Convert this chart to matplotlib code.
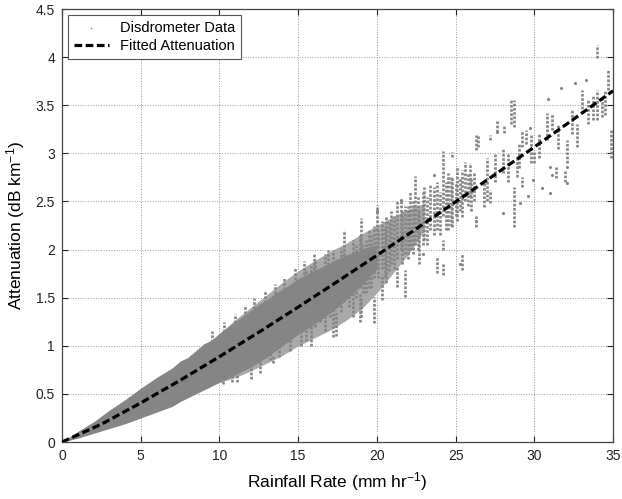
import matplotlib
matplotlib.use('Agg')
import matplotlib.pyplot as plt

plt.rcParams['font.family'] = ['Liberation Sans', 'DejaVu Sans']
plt.rcParams['mathtext.default'] = 'regular'

# dense core of the disdrometer cloud (envelope)
core_x = [0, 1, 2, 3, 4, 5, 6, 7, 7.5, 8, 8.5, 9, 9.5, 10, 10.5, 11, 11.5, 12,
          12.5, 13, 13.5, 14, 14.5, 15, 15.5, 16, 16.5, 17, 17.5, 18, 18.5, 19,
          19.5, 20]
core_hi = [0, 0.11, 0.21, 0.33, 0.44, 0.56, 0.67, 0.77, 0.84, 0.88, 0.95, 1.02,
           1.06, 1.13, 1.19, 1.25, 1.31, 1.37, 1.43, 1.48, 1.54, 1.59, 1.64,
           1.70, 1.74, 1.78, 1.82, 1.86, 1.90, 1.94, 1.97, 2.00, 2.03, 2.05]
core_lo = [0, 0.04, 0.09, 0.14, 0.19, 0.25, 0.31, 0.37, 0.42, 0.46, 0.50, 0.54,
           0.58, 0.62, 0.66, 0.70, 0.74, 0.78, 0.83, 0.88, 0.94, 1.00, 1.06,
           1.12, 1.17, 1.22, 1.28, 1.34, 1.40, 1.47, 1.55, 1.62, 1.71, 1.80]

# looser ring around the core where the samples thin out
halo_x = [10, 11, 12, 13, 14, 15, 16, 17, 18, 19, 20, 21, 22, 23]
halo_hi = [1.13, 1.27, 1.40, 1.53, 1.66, 1.78, 1.88, 1.98, 2.06, 2.16, 2.25,
           2.34, 2.42, 2.48]
halo_lo = [0.62, 0.67, 0.74, 0.82, 0.90, 1.00, 1.08, 1.16, 1.26, 1.38, 1.55,
           1.75, 1.95, 2.20]

# vertical stacks of samples at one rainfall rate: x, bottom, top
streak_x = [9.5, 10.3, 11.0, 11.6, 12.2, 12.9, 13.5, 14.1, 14.8, 15.4,
            10.2, 10.8, 11.1, 11.5, 12.0, 12.6, 13.2, 13.4, 13.8, 14.5, 15.2,
            15.5, 15.8, 15.8, 16.1, 16.4, 16.7, 17.0, 17.2, 17.2, 17.4, 17.4,
            17.7, 17.9, 18.2, 18.5, 18.7, 18.9, 18.9, 19.0, 19.0, 19.3, 19.5,
            19.8, 19.8, 20.0, 20.3, 20.3, 20.6, 20.9, 21.3, 21.3, 21.5, 21.8,
            21.8, 22.1, 22.4, 22.7, 23.0, 23.4, 23.8, 23.8, 24.2, 24.2, 24.2,
            24.5, 24.8, 24.8, 25.1, 25.4, 25.4, 25.6, 25.9, 26.0, 26.2, 26.3,
            26.3, 26.4, 26.8, 27.0, 27.2, 27.2, 27.5, 27.6, 28.0, 28.1, 28.3,
            28.5, 28.7, 28.7, 28.9, 29.0, 29.2, 29.2, 29.5, 29.8, 30.0, 30.3,
            30.8, 31.1, 31.4, 31.5, 31.95, 32.1, 32.4, 32.7, 33.0, 33.4, 33.7,
            34.0, 34.0, 34.3, 34.5, 34.7, 34.9,
            16.0, 16.9, 19.1, 19.6, 20.1, 20.5, 20.8, 21.1, 21.6, 22.0, 22.3,
            22.6, 22.9, 23.2, 23.6, 24.0, 24.4, 24.7, 25.0, 25.3, 25.8]
streak_lo = [1.00, 1.10, 1.20, 1.25, 1.30, 1.40, 1.45, 1.50, 1.60, 1.65,
             0.60, 0.62, 0.62, 0.75, 0.65, 0.72, 0.85, 0.82, 0.88, 0.95, 1.00,
             1.05, 1.00, 1.45, 1.20, 1.25, 1.15, 1.30, 1.09, 1.55, 1.10, 1.45,
             1.35, 1.45, 1.40, 1.30, 1.50, 1.25, 1.60, 1.30, 1.75, 1.55, 1.60,
             1.24, 1.70, 1.80, 1.48, 1.80, 1.65, 1.85, 1.61, 1.90, 2.00, 1.51,
             1.95, 2.00, 2.05, 1.85, 2.10, 2.20, 1.76, 2.20, 1.74, 2.00, 2.35,
             2.20, 2.23, 2.96, 2.30, 1.79, 2.34, 2.50, 2.55, 2.40, 2.50, 2.23,
             3.03, 3.07, 2.44, 2.50, 2.48, 3.14, 2.70, 3.22, 2.80, 3.21, 2.70,
             3.31, 2.23, 3.27, 2.75, 2.85, 2.65, 3.07, 3.10, 2.90, 2.90, 2.95,
             3.14, 3.24, 2.74, 3.05, 2.70, 2.90, 3.20, 3.07, 3.42, 3.30, 3.35,
             3.35, 3.99, 3.38, 3.40, 3.66, 2.95,
             1.70, 1.80, 1.55, 1.60, 1.70, 1.72, 1.78, 1.80, 1.85, 1.90, 1.95,
             2.00, 2.05, 2.05, 2.15, 2.15, 2.20, 2.25, 2.35, 2.40, 2.45]
streak_hi = [1.15, 1.25, 1.33, 1.42, 1.50, 1.58, 1.64, 1.72, 1.82, 1.88,
             0.80, 0.85, 0.70, 0.95, 0.80, 0.95, 1.05, 0.90, 1.10, 1.15, 1.20,
             1.80, 1.30, 1.85, 1.90, 1.78, 1.95, 1.85, 1.45, 2.00, 1.37, 1.90,
             2.02, 2.20, 1.95, 2.10, 2.05, 1.55, 2.15, 1.50, 2.33, 2.10, 2.20,
             1.51, 2.25, 2.46, 1.75, 2.30, 2.35, 2.40, 1.82, 2.50, 2.52, 1.79,
             2.45, 2.60, 2.76, 2.40, 2.65, 2.67, 1.93, 2.70, 1.86, 2.10, 3.02,
             2.80, 2.75, 3.01, 2.86, 1.96, 2.83, 2.91, 2.90, 2.75, 2.80, 2.36,
             3.19, 3.19, 2.72, 2.95, 2.62, 3.19, 3.00, 3.35, 3.05, 3.29, 3.00,
             3.55, 2.65, 3.55, 2.96, 3.10, 2.75, 3.24, 3.24, 3.20, 3.03, 3.20,
             3.42, 3.42, 2.86, 3.30, 2.83, 3.14, 3.45, 3.31, 3.66, 3.55, 3.60,
             3.66, 4.13, 3.60, 3.65, 3.87, 3.24,
             1.95, 2.00, 2.05, 2.15, 2.20, 2.25, 2.30, 2.35, 2.40, 2.45, 2.50,
             2.55, 2.60, 2.55, 2.65, 2.60, 2.70, 2.75, 2.70, 2.75, 2.80]

# isolated samples
dot_x = [30.5, 31.0, 31.0, 29.6, 29.1, 28.0, 30.9, 31.7, 32.6, 33.3, 29.7,
         26.3, 23.6, 22.9, 25.3, 29.9, 31.1, 32.1, 32.1, 21.5, 20.0, 27.6]
dot_y = [2.64, 2.86, 2.59, 2.56, 2.48, 2.38, 3.57, 3.68, 3.73, 3.76, 3.26,
         2.30, 2.77, 1.95, 1.85, 2.72, 2.77, 2.86, 2.69, 2.52, 2.40, 3.22]

# fitted attenuation curve
fit_x = [0, 2.5, 5, 7.5, 10, 12.5, 15, 17.5, 20, 22.5, 25, 27.5, 30, 32.5, 35]
fit_y = [0, 0.185, 0.406, 0.641, 0.887, 1.141, 1.402, 1.669, 1.940, 2.216,
         2.496, 2.780, 3.066, 3.356, 3.65]

x_ticks = [0, 5, 10, 15, 20, 25, 30, 35]
y_ticks = [0, 0.5, 1, 1.5, 2, 2.5, 3, 3.5, 4, 4.5]
y_tick_labels = ['0', '0.5', '1', '1.5', '2', '2.5', '3', '3.5', '4', '4.5']

grey = '#858585'

fig = plt.figure(figsize=(6.22, 4.99), dpi=100)
ax = fig.add_axes([0.0997, 0.1142, 0.8859, 0.8677])

ax.fill_between(halo_x, halo_lo, halo_hi, color='#a9a9a9', linewidth=0,
                zorder=2)
ax.fill_between(core_x, core_lo, core_hi, color=grey, linewidth=0, zorder=2)
ax.vlines(streak_x, streak_lo, streak_hi, colors=grey, linewidth=1.9,
          linestyles=[(0, (1, 0.6))], zorder=2)
pts = ax.scatter(dot_x, dot_y, s=5, color=grey, linewidths=0, zorder=2,
                 label='Disdrometer Data')
line, = ax.plot(fit_x, fit_y, color='black', linewidth=2.3,
                linestyle=(0, (2.4, 1.1)), label='Fitted Attenuation', zorder=3)

ax.set_xlim(0, 35)
ax.set_ylim(0, 4.5)
ax.set_xticks(x_ticks)
ax.set_yticks(y_ticks)
ax.set_yticklabels(y_tick_labels)
ax.tick_params(direction='in', length=4, width=0.8, top=True, right=True,
               labelsize=10, colors='#222222', pad=5)
ax.grid(True, linestyle=':', linewidth=0.7, color='#999999', zorder=0)
ax.set_axisbelow(True)
for s in ax.spines.values():
    s.set_color('#444444')
    s.set_linewidth(0.9)

ax.set_xlabel('Rainfall Rate (mm hr$^{-1}$)', fontsize=12.5, labelpad=5)
ax.set_ylabel('Attenuation (dB km$^{-1}$)', fontsize=12.5, labelpad=6)

leg = ax.legend(handles=[pts, line], loc='upper left', fontsize=10.5,
                fancybox=False, framealpha=1, edgecolor='#555555',
                borderaxespad=0.4, handlelength=2.4, markerscale=0.5,
                borderpad=0.4, labelspacing=0.3)
leg.get_frame().set_linewidth(0.8)

plt.savefig('out.png', dpi=100)
